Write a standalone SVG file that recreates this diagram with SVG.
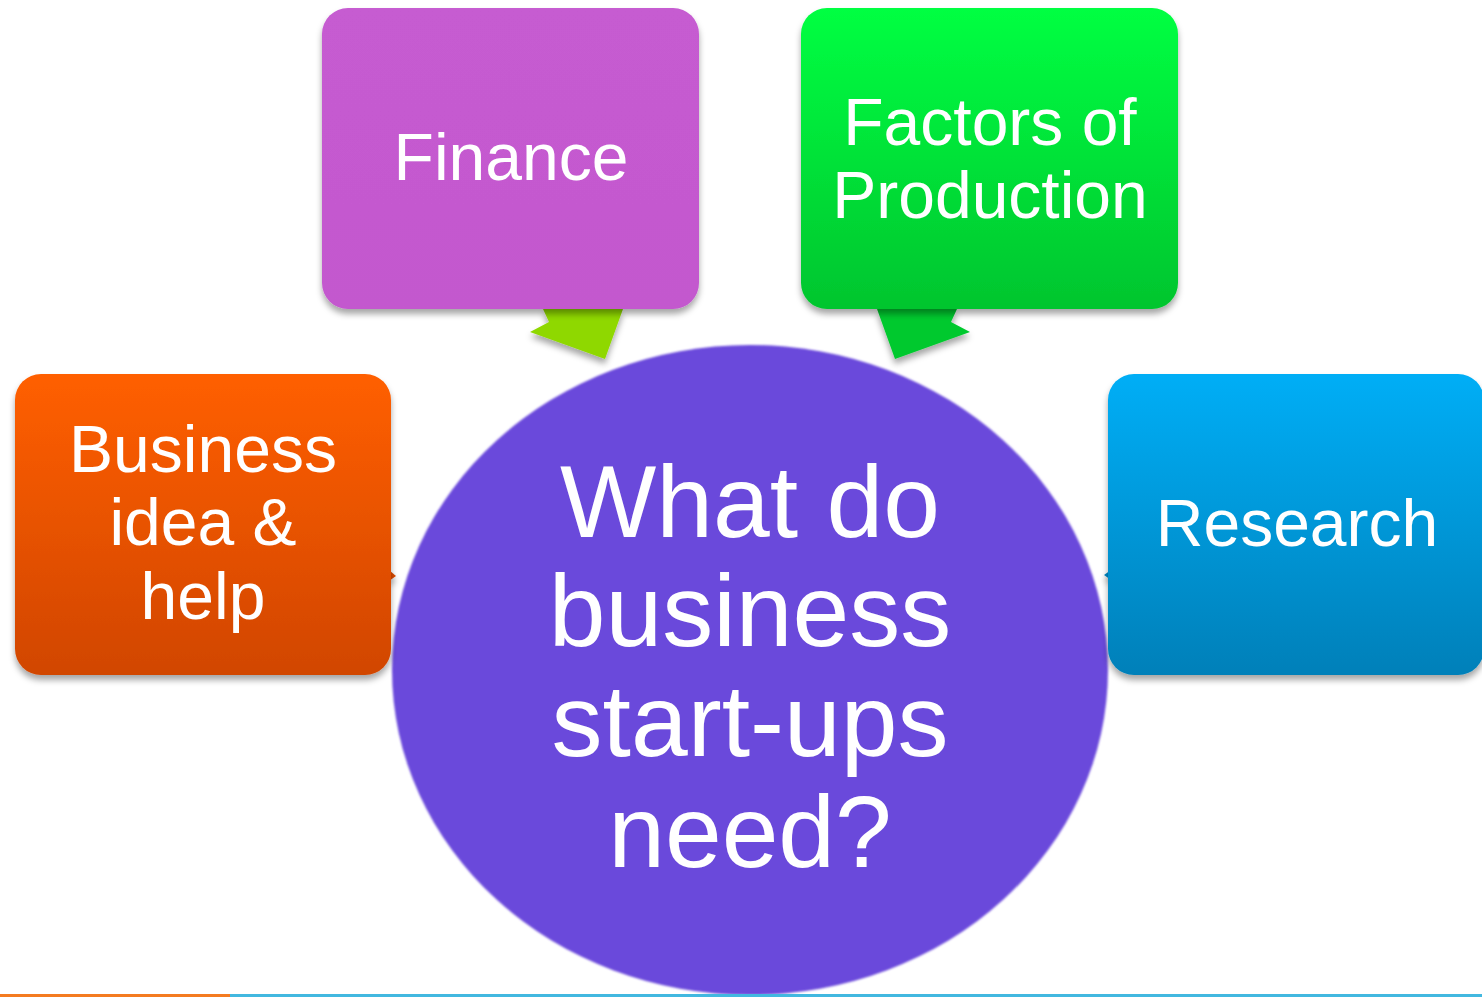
<svg xmlns="http://www.w3.org/2000/svg" width="1482" height="997" viewBox="0 0 1482 997">
  <defs>
    <linearGradient id="gOrange" x1="0" y1="0" x2="0" y2="1">
      <stop offset="0" stop-color="#FF5F00"/>
      <stop offset="1" stop-color="#D14600"/>
    </linearGradient>
    <linearGradient id="gPurple" x1="0" y1="0" x2="0" y2="1">
      <stop offset="0" stop-color="#C65BD1"/>
      <stop offset="1" stop-color="#C358CE"/>
    </linearGradient>
    <linearGradient id="gGreen" x1="0" y1="0" x2="0" y2="1">
      <stop offset="0" stop-color="#00FF42"/>
      <stop offset="1" stop-color="#00C52E"/>
    </linearGradient>
    <linearGradient id="gBlue" x1="0" y1="0" x2="0" y2="1">
      <stop offset="0" stop-color="#00AEF6"/>
      <stop offset="1" stop-color="#0080B9"/>
    </linearGradient>
    <filter id="shadow" x="-10%" y="-10%" width="120%" height="125%">
      <feDropShadow dx="0" dy="5" stdDeviation="3" flood-color="#000" flood-opacity="0.35"/>
    </filter>
    <filter id="soft" x="-5%" y="-5%" width="110%" height="110%">
      <feGaussianBlur stdDeviation="0.8"/>
    </filter>
  </defs>
  <style>
    .lbl { font-family: "Liberation Sans", Arial, sans-serif; fill: #ffffff; text-anchor: middle; }
    .box { font-size: 66px; }
    .hub { font-size: 102px; }
  </style>

  <rect width="1482" height="997" fill="#ffffff"/>

  <!-- central hub -->
  <g id="hub">
    <ellipse cx="750" cy="670" rx="358" ry="325" fill="#6A48DB" filter="url(#soft)"/>
    <text class="lbl hub" x="750" y="537">What do</text>
    <text class="lbl hub" x="750" y="646">business</text>
    <text class="lbl hub" x="750" y="756">start-ups</text>
    <text class="lbl hub" x="750" y="867">need?</text>
  </g>

  <!-- connectors pointing from the boxes towards the hub -->
  <g id="connectors" filter="url(#shadow)">
    <polygon points="543,309 623,309 605,359 530,332 549,322" fill="#8FD800"/>
    <polygon points="877,309 957,309 951,322 970,332 895,359" fill="#00C92F"/>
    <polygon points="389,570 396,576 389,581" fill="#D94A00"/>
    <polygon points="1111,570 1104,575 1111,580" fill="#0088C4"/>
  </g>

  <g id="business" filter="url(#shadow)">
    <rect x="15" y="374" width="376" height="301" rx="26" fill="url(#gOrange)"/>
    <text class="lbl box" x="203" y="472">Business</text>
    <text class="lbl box" x="203" y="545">idea &amp;</text>
    <text class="lbl box" x="203" y="619">help</text>
  </g>

  <g id="finance" filter="url(#shadow)">
    <rect x="322" y="8" width="377" height="301" rx="26" fill="url(#gPurple)"/>
    <text class="lbl box" x="511" y="180">Finance</text>
  </g>

  <g id="factors" filter="url(#shadow)">
    <rect x="801" y="8" width="377" height="301" rx="26" fill="url(#gGreen)"/>
    <text class="lbl box" x="990" y="145">Factors of</text>
    <text class="lbl box" x="990" y="218">Production</text>
  </g>

  <g id="research" filter="url(#shadow)">
    <rect x="1108" y="374" width="376" height="301" rx="26" fill="url(#gBlue)"/>
    <text class="lbl box" x="1297" y="546">Research</text>
  </g>

  <!-- footer rule -->
  <rect x="0" y="994" width="230" height="3" fill="#F47B20"/>
  <rect x="230" y="994" width="1252" height="3" fill="#42B8E0"/>
</svg>
